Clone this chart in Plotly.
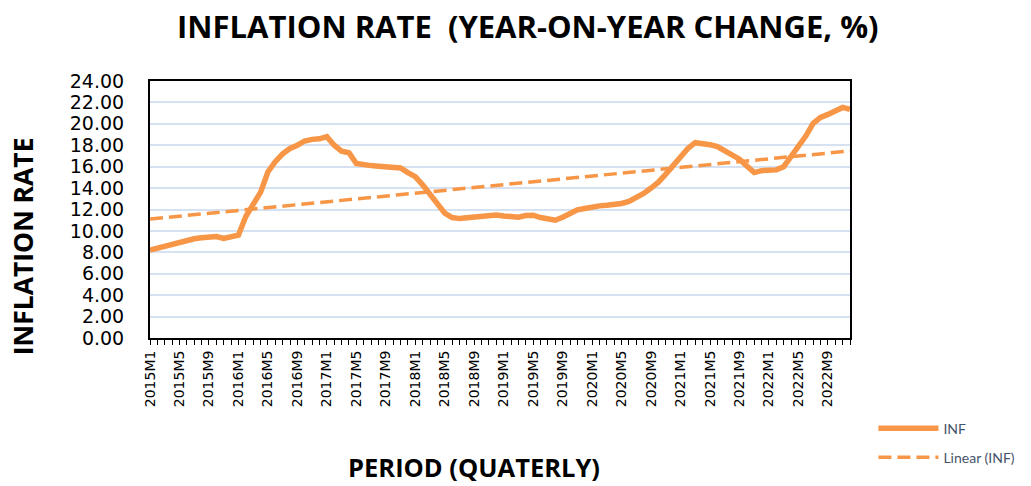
import numpy as np
import plotly.graph_objects as go

years = list(range(2015, 2023))
periods = [f"{y}M{m}" for y in years for m in range(1, 13)]

inf = [8.2, 8.4, 8.55, 8.74, 9.0, 9.2, 9.27, 9.36, 9.45, 9.48, 9.3, 9.4,
       9.6, 11.35, 12.6, 13.6, 15.5, 16.47, 17.2, 17.7, 18.0, 18.4, 18.55, 18.6,
       18.8, 18.0, 17.45, 17.3, 16.3, 16.15, 16.1, 16.04, 15.98, 15.9, 15.88, 15.45,
       15.07, 14.3, 13.4, 12.5, 11.65, 11.25, 11.15, 11.22, 11.28, 11.27, 11.35, 11.48,
       11.4, 11.35, 11.28, 11.44, 11.47, 11.25, 11.1, 11.0, 11.28, 11.7, 11.97, 12.1,
       12.25, 12.34, 12.4, 12.43, 12.56, 12.75, 13.06, 13.5, 14.0, 14.55, 15.3, 16.07,
       16.94, 17.7, 18.24, 18.18, 18.05, 17.87, 17.5, 17.12, 16.7, 16.07, 15.45, 15.63,
       15.63, 15.7, 16.0, 16.94, 17.87, 18.86, 20.04, 20.6, 20.88, 21.22, 21.53, 21.35]

y_ticks = [i * 2 for i in range(13)]
x_labels = [p if i % 4 == 0 else "" for i, p in enumerate(periods)]

# Linear trendline (least squares), as Excel's "Linear (INF)"
idx = np.arange(1, len(inf) + 1)
slope, intercept = np.polyfit(idx, inf, 1)
trend = (slope * idx + intercept).tolist()

orange = "#F79646"

fig = go.Figure()
fig.add_trace(go.Scatter(x=periods, y=inf, mode="lines", name="INF",
                         legendgroup="a",
                         line=dict(color=orange, width=5.5)))
fig.add_trace(go.Scatter(x=periods, y=trend, mode="lines", name="Linear (INF)",
                         legendgroup="b",
                         line=dict(color=orange, width=3.5, dash="13px,6px")))

fig.update_layout(
    width=1031, height=486,
    paper_bgcolor="white", plot_bgcolor="white",
    margin=dict(l=150, r=180, t=81, b=148),
    title=dict(text="<b>INFLATION RATE  (YEAR-ON-YEAR CHANGE, %)</b>",
               x=0.512, xanchor="center", y=0.944, yanchor="middle",
               font=dict(family="Open Sans", size=31, color="black")),
    font=dict(family="Lato", color="black"),
    showlegend=True,
    legend=dict(x=1.032, y=-0.29, xanchor="left", yanchor="top",
                font=dict(family="Lato", size=14, color="#44546A"),
                bgcolor="rgba(0,0,0,0)", traceorder="grouped",
                tracegroupgap=8, itemwidth=60),
    annotations=[
        dict(text="<b>PERIOD (QUATERLY)</b>", xref="paper", yref="paper",
             x=(474 - 150) / 701, y=(338 - 467) / 257, xanchor="center",
             yanchor="middle", showarrow=False,
             font=dict(family="Open Sans", size=25.5, color="black")),
        dict(text="<b>INFLATION RATE</b>", xref="paper", yref="paper",
             x=(23 - 150) / 701, y=(338 - 246) / 257, xanchor="center",
             yanchor="middle", showarrow=False, textangle=-90,
             font=dict(family="Open Sans", size=26.5, color="black")),
    ],
)

fig.update_xaxes(
    type="category", range=[0, len(periods) - 1],
    tickmode="array", tickvals=periods, ticktext=x_labels,
    tickangle=-90, tickfont=dict(family="DejaVu Sans", size=14, color="black"),
    ticks="outside", ticklen=5, tickcolor="black",
    showgrid=False, showline=True, linecolor="black", linewidth=2, mirror=True,
)
fig.update_yaxes(
    range=[0, 24], tickmode="array", tickvals=y_ticks, tickformat=".2f",
    tickfont=dict(family="DejaVu Sans", size=19, color="black"),
    ticklabelstandoff=20,
    showgrid=True, gridcolor="#D6E1F1", gridwidth=1.5,
    showline=True, linecolor="black", linewidth=2, mirror=True,
    ticks="", zeroline=False,
)

fig.write_html("out.html", config={"displayModeBar": False},
               post_script="document.body.style.margin='0';")
